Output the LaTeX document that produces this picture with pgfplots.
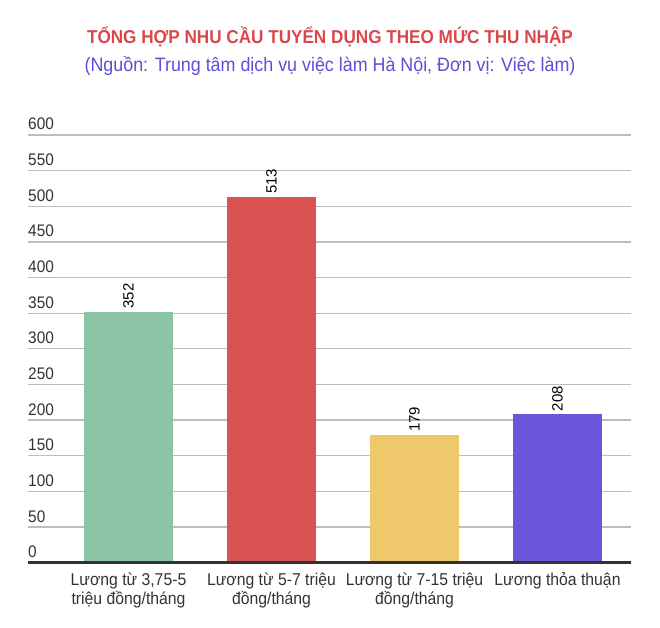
\documentclass[border=0pt]{standalone}
\usepackage{fontspec}
\setmainfont{Liberation Sans}
\newfontfamily\narrow[FakeStretch=0.92]{Liberation Sans}
\usepackage{pgfplots}
\pgfplotsset{compat=1.18}

\definecolor{titlered}{HTML}{D9474B}
\definecolor{subblue}{HTML}{5B4FD6}
\definecolor{bargreen}{HTML}{8CC4A8}
\definecolor{barred}{HTML}{DB5254}
\definecolor{baryellow}{HTML}{EEC86B}
\definecolor{barpurple}{HTML}{6B55D9}
\definecolor{gridgray}{HTML}{BDBDBD}
\definecolor{axisdark}{HTML}{333333}
\definecolor{labelgray}{HTML}{333333}

\begin{document}
\begin{tikzpicture}
\useasboundingbox (0,0) rectangle (660bp,628bp);

\node[anchor=base, text=titlered, font=\narrow\bfseries\fontsize{18.7}{22}\selectfont]
  at (330bp,584bp) {TỔNG HỢP NHU CẦU TUYỂN DỤNG THEO MỨC THU NHẬP};
\node[anchor=base, text=subblue, font=\narrow\fontsize{19.5}{22}\selectfont]
  at (330bp,556bp) {(Nguồn: Trung tâm dịch vụ việc làm Hà Nội, Đơn vị: Việc làm)};

\begin{axis}[
    at={(28bp,65.3bp)}, anchor=south west,
    scale only axis,
    width=603bp, height=427.7bp,
    ybar, bar shift=0pt, bar width=88.4bp,
    xmin=-0.703, xmax=3.514,
    ymin=0, ymax=600,
    ytick={0,50,...,600},
    xtick={0,1,2,3},
    xticklabels={{Lương từ 3,75-5\\triệu đồng/tháng},
                 {Lương từ 5-7 triệu\\đồng/tháng},
                 {Lương từ 7-15 triệu\\đồng/tháng},
                 {Lương thỏa thuận}},
    axis line style={draw=none},
    major tick length=0pt,
    ymajorgrids,
    major grid style={draw=gridgray, line width=1.3bp},
    /pgf/number format/assume math mode=true,
    yticklabel style={anchor=base west, inner sep=0pt, yshift=5bp,
        text=labelgray, font=\narrow\fontsize{16.8}{18}\selectfont},
    xticklabel style={anchor=north, align=center, inner sep=0pt, yshift=-10bp,
        text=labelgray, font=\narrow\fontsize{17.2}{19.5}\selectfont},
    nodes near coords,
    nodes near coords style={rotate=90, anchor=west, inner sep=3bp,
        text=black, font=\fontsize{15}{15}\selectfont},
    clip=false,
]
\addplot[draw=none, fill=bargreen] coordinates {(0,352)};
\addplot[draw=none, fill=barred] coordinates {(1,513)};
\addplot[draw=none, fill=baryellow] coordinates {(2,179)};
\addplot[draw=none, fill=barpurple] coordinates {(3,208)};
\draw[axisdark, line width=2.5bp] (axis cs:-0.703,0) -- (axis cs:3.514,0);
\end{axis}
\end{tikzpicture}
\end{document}
